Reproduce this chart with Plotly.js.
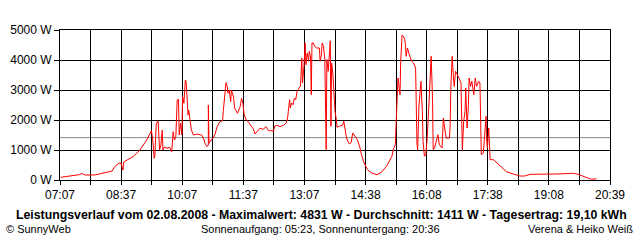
<!DOCTYPE html>
<html>
<head>
<meta charset="utf-8">
<script src="https://cdn.plot.ly/plotly-3.0.1.min.js"></script>
<style>html,body{margin:0;padding:0;background:#fff;}#chart{width:640px;height:240px;}</style>
</head>
<body>
<div id="chart"></div>
<script>
// Time of each reading (HH:MM) and power in watts
const times = [
"07:08","07:22","07:36","07:39","07:44","07:59","08:06","08:18","08:24","08:28","08:34","08:37","08:40","08:41","08:47","08:55","09:05","09:15","09:22",
"09:24","09:26","09:27","09:29","09:31","09:32","09:34","09:36","09:38","09:39","09:41","09:45","09:49","09:52","09:54","09:56","09:58","10:00","10:02","10:03","10:05","10:07","10:08","10:10","10:12","10:13","10:14","10:16","10:17","10:19","10:21","10:24","10:29","10:36","10:39","10:41","10:44","10:46","10:46","10:47","10:50","10:53","10:56","10:59","11:03","11:07","11:08","11:11","11:12","11:14","11:15","11:17","11:19","11:20","11:23","11:25","11:29","11:33","11:35","11:37","11:39","11:42","11:45","11:48","11:52","11:55","12:00","12:02","12:07","12:11","12:15","12:20","12:22","12:24",
"12:27","12:32","12:37","12:41","12:43","12:44","12:46","12:47","12:49","12:51","12:53","12:55","12:57","13:00","13:02","13:04","13:05","13:07","13:09","13:10","13:12","13:14","13:15","13:17","13:18","13:19","13:21","13:23","13:26","13:30","13:31","13:33","13:34","13:36","13:38","13:40","13:41","13:43","13:46","13:47","13:48","13:50","13:52","13:53","13:55","13:56","14:00","14:04","14:06","14:08","14:10","14:14","14:17","14:19","14:23","14:26","14:30","14:32","14:36","14:41","14:47","14:55","15:02","15:09","15:17","15:19","15:22","15:23","15:24","15:26","15:29","15:30","15:32","15:34","15:36","15:37","15:38","15:40","15:42","15:44","15:46","15:49","15:52","15:54","15:55","15:57","15:58","16:00","16:01","16:02","16:03","16:05","16:07","16:09","16:12","16:15","16:17","16:18","16:20","16:23","16:25","16:27","16:31","16:33","16:35","16:37","16:42","16:43","16:44","16:46","16:48","16:49","16:51","16:54","16:56","16:59","17:00","17:01","17:03","17:05","17:06","17:08","17:10","17:11","17:13","17:15","17:18","17:20","17:22","17:25","17:27","17:29","17:32","17:34","17:36","17:37","17:38","17:40","17:42","17:47","17:52","17:57","18:06","18:16","18:26","18:33","18:41","19:20","19:45","19:52","20:00","20:07","20:12","20:19"
];
const watts = [
90,130,180,220,165,170,200,260,300,450,560,560,330,600,680,780,1000,1333,1643,
1333,723,800,1833,1967,1950,1000,1167,1667,1000,1100,1057,1090,943,1610,1333,1443,2667,2690,1500,1890,1500,2777,2557,3333,3300,3000,2167,2333,2000,1667,1500,1530,1500,1390,1223,1110,1170,2500,1220,1333,1390,1533,1777,1943,1977,2277,2943,3243,3110,2890,3000,2610,3000,2777,2390,2223,2443,2723,2557,2167,2000,1943,1833,1723,1533,1667,1723,1690,1777,1643,1643,1610,1800,
1823,1780,1823,1900,2067,2343,2677,2400,2567,2510,2733,2677,2957,3067,3123,4067,3233,3733,4567,3843,4233,3957,4290,4067,2843,4567,4567,4457,4400,4400,3957,4177,4567,4457,4010,1010,4010,3623,4643,1790,3900,3500,2843,2290,2010,1757,1800,1820,1957,1623,1400,1200,1250,1567,1450,1343,1067,843,567,343,233,177,267,457,790,1010,1177,1790,2567,3400,2843,3957,4831,4790,4677,4510,4123,4400,4233,4123,3957,3900,3733,1233,1010,2510,2733,3290,2733,2290,1290,790,843,1343,2677,4123,2677,1010,1067,1400,1510,1177,1067,2067,1733,1400,1400,1843,3067,4123,3400,3120,3623,3510,3400,3233,2067,1010,1957,2290,3067,1733,2510,3400,3120,3290,2843,3400,3120,3290,3233,843,900,1400,2123,1290,1067,1733,677,677,567,443,277,200,133,133,190,200,223,190,110,57,23,43
];
const averageW = 1411;
const startTime = "07:07";
const endTime = "20:39";
const xTickLabels = ["07:07","08:37","10:07","11:37","13:07","14:38","16:08","17:38","19:08","20:39"];
const yTickVals = [0,1000,2000,3000,4000,5000];
const yTickText = ["0 W","1000 W","2000 W","3000 W","4000 W","5000 W"];

const toMin = s => { const p = s.split(":"); return (+p[0])*60 + (+p[1]); };
const xs = times.map(toMin);
const x0 = toMin(startTime), x1 = toMin(endTime);
const nGrid = 2*(xTickLabels.length-1);
const tickvals = [], ticktext = [];
for (let i = 0; i <= nGrid; i++) {
  tickvals.push(x0 + (x1-x0)*i/nGrid);
  ticktext.push(i % 2 === 0 ? xTickLabels[i/2] : "");
}

const font = "Liberation Sans, Arial, sans-serif";
const trace = {
  x: xs, y: watts, type: "scatter", mode: "lines",
  line: {color: "#ff0000", width: 1, shape: "linear"},
  hoverinfo: "none"
};
const layout = {
  width: 640, height: 240,
  margin: {l: 60, r: 30, t: 30, b: 60, pad: 0},
  paper_bgcolor: "#ffffff", plot_bgcolor: "#ffffff",
  showlegend: false,
  font: {family: font, size: 11, color: "#000"},
  xaxis: {
    range: [x0, x1], tickmode: "array", tickvals: tickvals, ticktext: ticktext,
    showgrid: true, gridcolor: "#000", gridwidth: 1,
    zeroline: false, showline: true, linecolor: "#000", linewidth: 1, mirror: true,
    ticks: "outside", ticklen: 4, tickcolor: "#000", tickwidth: 1,
    tickfont: {family: font, size: 12, color: "#000"}, fixedrange: true
  },
  yaxis: {
    range: [0, 5000], tickmode: "array", tickvals: yTickVals, ticktext: yTickText,
    showgrid: true, gridcolor: "#000", gridwidth: 1,
    zeroline: false, showline: true, linecolor: "#000", linewidth: 1, mirror: true,
    ticks: "outside", ticklen: 5, tickcolor: "#000", tickwidth: 1,
    tickfont: {family: font, size: 12, color: "#000"}, fixedrange: true
  },
  shapes: [{type: "line", xref: "paper", x0: 0, x1: 1, yref: "y", y0: averageW, y1: averageW,
            line: {color: "#888888", width: 1}, layer: "below"}],
  annotations: [
    {text: "<b>Leistungsverlauf vom 02.08.2008 - Maximalwert: 4831 W - Durchschnitt: 1411 W - Tagesertrag: 19,10 kWh</b>",
     xref: "paper", yref: "paper", x: (321-60)/550, y: (180-215)/150, xanchor: "center", yanchor: "middle",
     showarrow: false, font: {family: font, size: 12.3, color: "#000"}},
    {text: "© SunnyWeb", xref: "paper", yref: "paper", x: (4-60)/550, y: (180-229)/150,
     xanchor: "left", yanchor: "middle", showarrow: false, font: {family: font, size: 11, color: "#000"}},
    {text: "Sonnenaufgang: 05:23, Sonnenuntergang: 20:36", xref: "paper", yref: "paper", x: (320-60)/550, y: (180-229)/150,
     xanchor: "center", yanchor: "middle", showarrow: false, font: {family: font, size: 11, color: "#000"}},
    {text: "Verena & Heiko Weiß", xref: "paper", yref: "paper", x: (635-60)/550, y: (180-229)/150,
     xanchor: "right", yanchor: "middle", showarrow: false, font: {family: font, size: 11, color: "#000"}}
  ]
};
Plotly.newPlot("chart", [trace], layout, {staticPlot: true, displayModeBar: false});
</script>
</body>
</html>
